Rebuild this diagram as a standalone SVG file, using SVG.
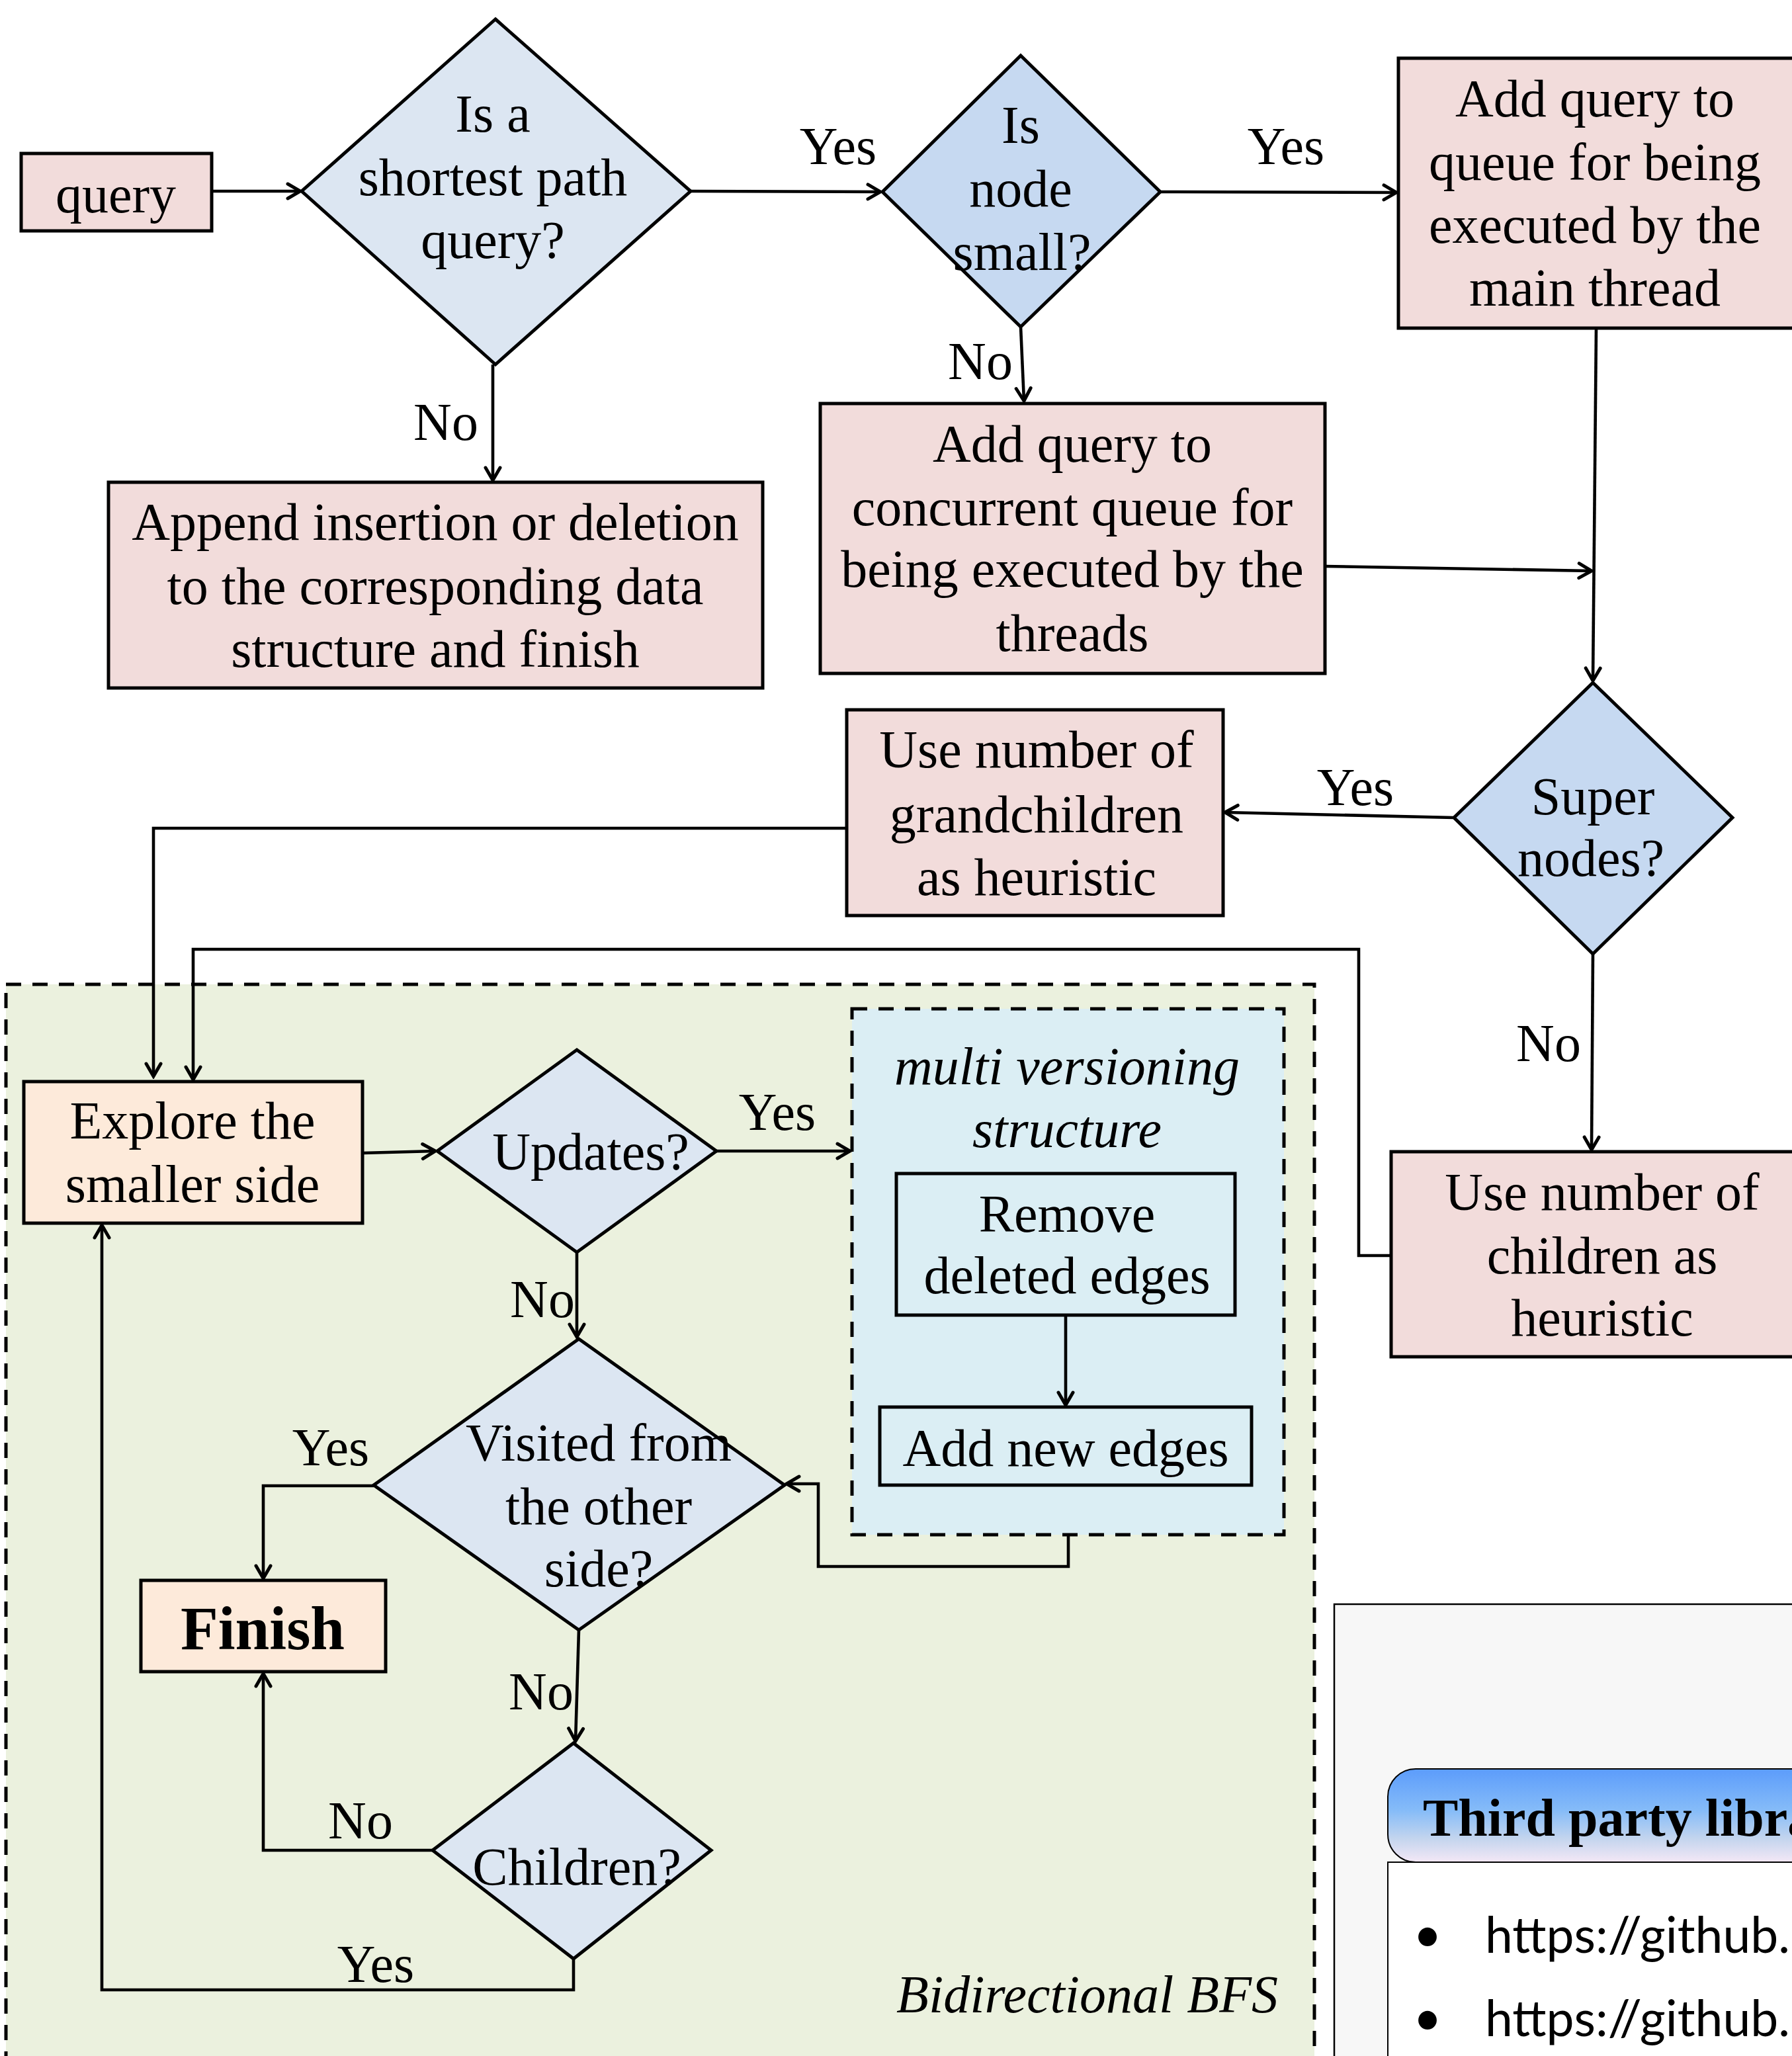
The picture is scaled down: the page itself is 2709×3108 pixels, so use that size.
<svg xmlns="http://www.w3.org/2000/svg" width="2709" height="3108" viewBox="0 0 2709 3108">
<defs>
<style>
.t{font-family:"Liberation Serif","Times New Roman",serif;font-size:80px;text-anchor:middle;fill:#000}
.it{font-style:italic}
.bd{font-weight:bold}
.pink{fill:#f2dcdb;stroke:#000;stroke-width:5}
.peach{fill:#fdeada;stroke:#000;stroke-width:5}
.aqua{fill:#dbeef4;stroke:#000;stroke-width:5}
.dia{fill:#dce6f2;stroke:#000;stroke-width:5;stroke-linejoin:miter}
.dia2{fill:#c6d9f1;stroke:#000;stroke-width:5}
.dash{stroke:#000;stroke-width:5;stroke-dasharray:23 17}
.c{fill:none;stroke:#000;stroke-width:4.6;marker-end:url(#ah)}
.sans{font-family:Lato,"Open Sans",sans-serif;font-size:75px;fill:#000}
</style>
<marker id="ah" viewBox="-24 -15 28 30" markerWidth="28" markerHeight="30" refX="0" refY="0" orient="auto" markerUnits="userSpaceOnUse">
<path d="M-19 -11 L0 0 L-19 11" fill="none" stroke="#000" stroke-width="5" stroke-linecap="round" stroke-linejoin="miter"/>
</marker>
<linearGradient id="hdr" x1="0" y1="0" x2="0" y2="1">
<stop offset="0" stop-color="#5c9cfb"/>
<stop offset="0.45" stop-color="#86bcf8"/>
<stop offset="0.75" stop-color="#c4d5ee"/>
<stop offset="1" stop-color="#f4e8f6"/>
</linearGradient>
</defs>
<rect x="0" y="0" width="2709" height="3108" fill="#fff"/>

<g id="bfs-container">
<rect x="9" y="1488" width="1978" height="1700" fill="#ebf1de" class="dash"/>
<text class="t it" x="1932" y="3042" style="text-anchor:end">Bidirectional BFS</text>
</g>
<g id="mv-container">
<rect x="1288" y="1525" width="653" height="795" fill="#dbeef4" class="dash"/>
<text class="t it" x="1613" y="1639">multi versioning</text>
<text class="t it" x="1613" y="1734">structure</text>
</g>

<g id="query">
<rect x="32" y="232" width="288" height="117" class="pink"/>
<text class="t" x="175" y="321">query</text>
</g>
<g id="is-shortest">
<polygon points="749,29 1044,289 749,551 456,289" class="dia"/>
<text class="t" x="745" y="199">Is a</text>
<text class="t" x="745" y="295">shortest path</text>
<text class="t" x="745" y="390">query?</text>
</g>
<g id="is-small">
<polygon points="1543,84 1754,290 1543,494 1334,290" class="dia2"/>
<text class="t" x="1543" y="216">Is</text>
<text class="t" x="1543" y="312">node</text>
<text class="t" x="1545" y="408">small?</text>
</g>
<g id="main-queue">
<rect x="2114" y="88" width="620" height="408" class="pink"/>
<text class="t" x="2411" y="176">Add query to</text>
<text class="t" x="2411" y="272">queue for being</text>
<text class="t" x="2411" y="367">executed by the</text>
<text class="t" x="2411" y="462">main thread</text>
</g>
<g id="append">
<rect x="164" y="729" width="989" height="311" class="pink"/>
<text class="t" x="658" y="816">Append insertion or deletion</text>
<text class="t" x="658" y="913">to the corresponding data</text>
<text class="t" x="658" y="1008">structure and finish</text>
</g>
<g id="concurrent-queue">
<rect x="1240" y="610" width="763" height="408" class="pink"/>
<text class="t" x="1621" y="698">Add query to</text>
<text class="t" x="1621" y="794">concurrent queue for</text>
<text class="t" x="1621" y="887">being executed by the</text>
<text class="t" x="1621" y="984">threads</text>
</g>
<g id="super-nodes">
<polygon points="2408,1032 2619,1236 2408,1442 2198,1236" class="dia2"/>
<text class="t" x="2408" y="1231">Super</text>
<text class="t" x="2405" y="1324">nodes?</text>
</g>
<g id="grandchildren">
<rect x="1280" y="1073" width="569" height="311" class="pink"/>
<text class="t" x="1567" y="1160">Use number of</text>
<text class="t" x="1567" y="1258">grandchildren</text>
<text class="t" x="1567" y="1353">as heuristic</text>
</g>
<g id="children-heuristic">
<rect x="2103" y="1741" width="630" height="310" class="pink"/>
<text class="t" x="2422" y="1829">Use number of</text>
<text class="t" x="2422" y="1925">children as</text>
<text class="t" x="2422" y="2019">heuristic</text>
</g>
<g id="explore">
<rect x="36" y="1635" width="512" height="214" class="peach"/>
<text class="t" x="291" y="1721">Explore the</text>
<text class="t" x="291" y="1817">smaller side</text>
</g>
<g id="updates">
<polygon points="872,1587 1083,1740 872,1893 661,1740" class="dia"/>
<text class="t" x="893" y="1768">Updates?</text>
</g>
<g id="remove">
<rect x="1355" y="1774" width="512" height="214" class="aqua"/>
<text class="t" x="1613" y="1862">Remove</text>
<text class="t" x="1613" y="1955">deleted edges</text>
</g>
<g id="add-edges">
<rect x="1330" y="2127" width="562" height="118" class="aqua"/>
<text class="t" x="1611" y="2216">Add new edges</text>
</g>
<g id="visited">
<polygon points="875,2024 1186,2245 875,2464 565,2245" class="dia"/>
<text class="t" x="905" y="2208">Visited from</text>
<text class="t" x="905" y="2304">the other</text>
<text class="t" x="905" y="2398">side?</text>
</g>
<g id="finish">
<rect x="213" y="2389" width="370" height="138" class="peach"/>
<text class="t bd" x="397" y="2493" style="font-size:93px">Finish</text>
</g>
<g id="children-q">
<polygon points="867,2635 1075,2797 867,2961 654,2797" class="dia"/>
<text class="t" x="872" y="2849">Children?</text>
</g>

<g id="third-party">
<rect x="2017" y="2425" width="720" height="720" fill="#f7f7f7" stroke="#000" stroke-width="2.5"/>
<rect x="2098" y="2815" width="640" height="330" fill="#fff" stroke="#000" stroke-width="2"/>
<path d="M2140 2674 H2740 V2815 H2140 A42 42 0 0 1 2098 2773 V2716 A42 42 0 0 1 2140 2674 Z" fill="url(#hdr)" stroke="#000" stroke-width="2"/>
<text class="t bd" x="2151" y="2775" style="text-anchor:start">Third party libra</text>
<text class="sans" x="2158" y="2950" style="text-anchor:middle">•</text>
<text class="sans" x="2245" y="2952">https://github.</text>
<text class="sans" x="2158" y="3076" style="text-anchor:middle">•</text>
<text class="sans" x="2245" y="3078">https://github.</text>
</g>

<g id="connectors">
<path class="c" d="M320 289 L454 289"/>
<path class="c" d="M1044 289 L1331 290"/>
<path class="c" d="M1754 290 L2111 291"/>
<path class="c" d="M745 551 L745 726"/>
<path class="c" d="M1543 494 L1548 606"/>
<path class="c" d="M2413 496 L2408 1029"/>
<path class="c" d="M2003 856 L2406 863"/>
<path class="c" d="M2198 1236 L1852 1228"/>
<path class="c" d="M2408 1442 L2406 1738"/>
<path class="c" d="M1280 1252 L232 1252 L232 1627"/>
<path class="c" d="M2103 1898 L2054 1898 L2054 1435 L292 1435 L292 1632"/>
<path class="c" d="M548 1743 L658 1740"/>
<path class="c" d="M1083 1740 L1285 1740"/>
<path class="c" d="M872 1893 L872 2021"/>
<path class="c" d="M1611 1988 L1611 2124"/>
<path class="c" d="M1615 2320 L1615 2368 L1237 2368 L1237 2243 L1189 2243"/>
<path class="c" d="M565 2246 L398 2246 L398 2386"/>
<path class="c" d="M875 2464 L870 2632"/>
<path class="c" d="M654 2797 L398 2797 L398 2530"/>
<path class="c" d="M867 2961 L867 3008 L154 3008 L154 1852"/>
<text class="t" x="1267" y="248">Yes</text>
<text class="t" x="1944" y="248">Yes</text>
<text class="t" x="674" y="665">No</text>
<text class="t" x="1482" y="573">No</text>
<text class="t" x="2049" y="1217">Yes</text>
<text class="t" x="2341" y="1604">No</text>
<text class="t" x="1175" y="1708">Yes</text>
<text class="t" x="820" y="1991">No</text>
<text class="t" x="500" y="2215">Yes</text>
<text class="t" x="818" y="2584">No</text>
<text class="t" x="545" y="2779">No</text>
<text class="t" x="568" y="2996">Yes</text>
</g>
</svg>
